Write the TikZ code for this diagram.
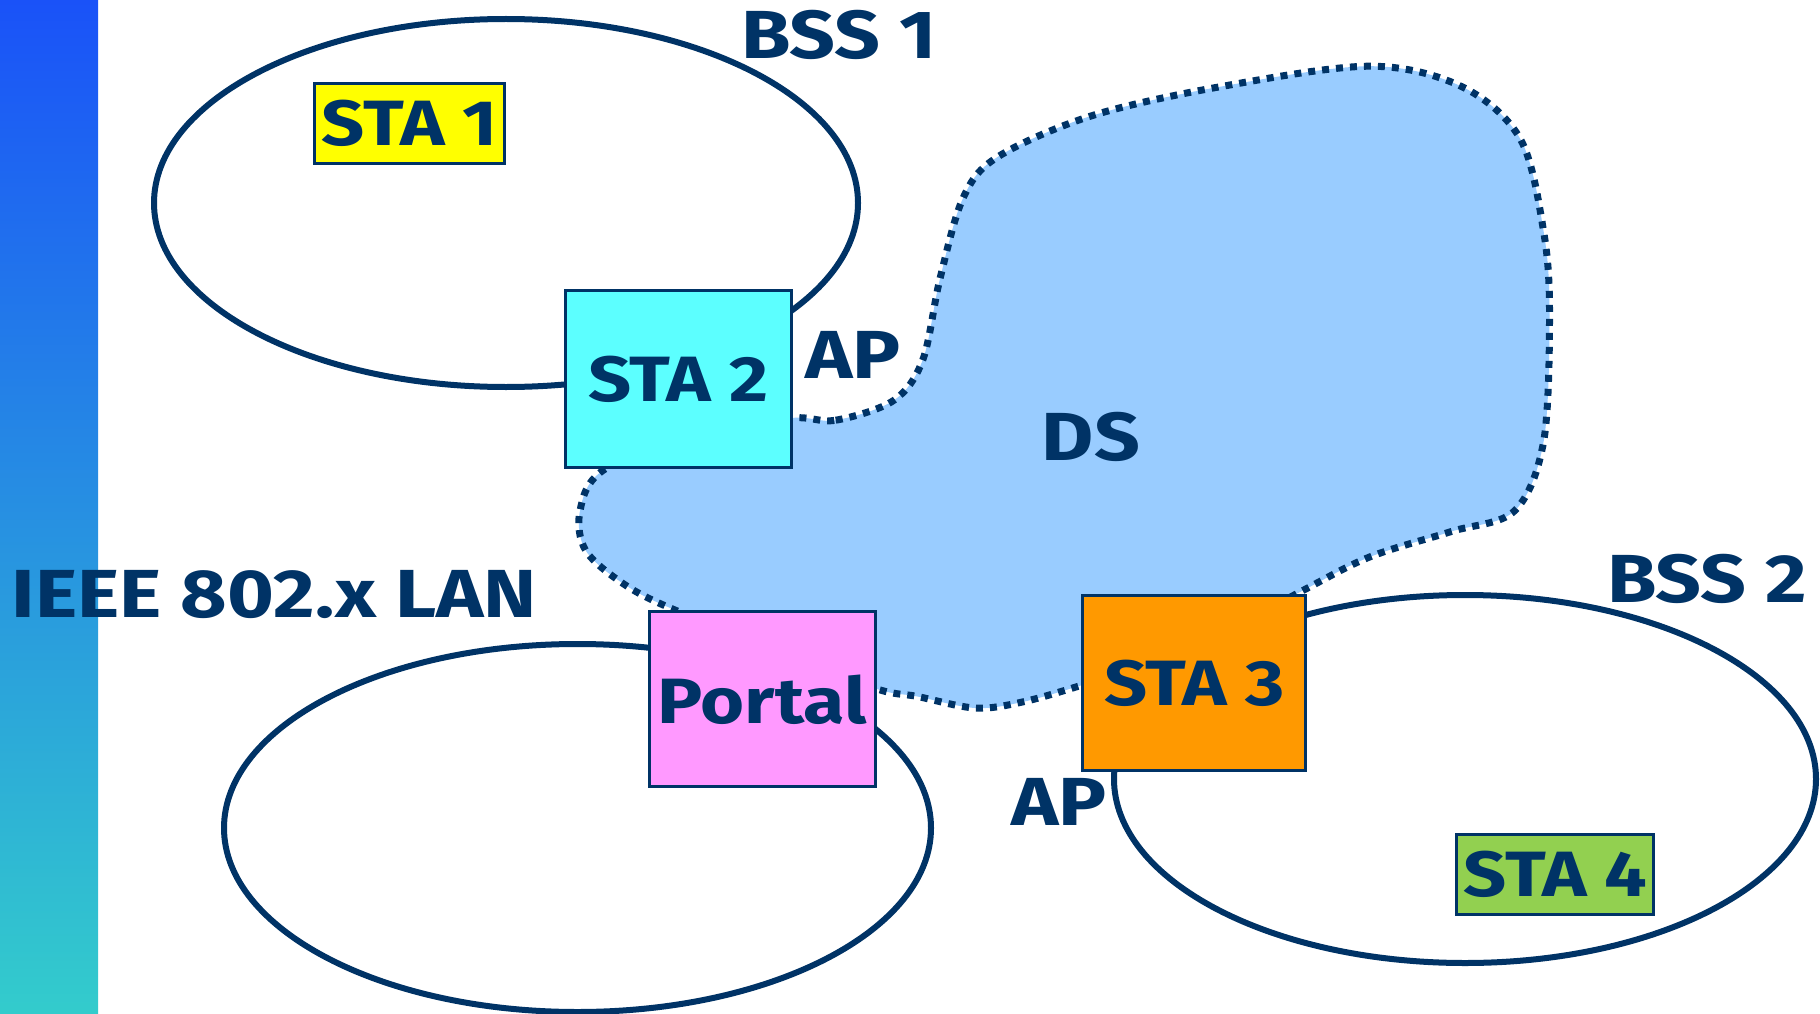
\documentclass[tikz,border=0pt]{standalone}
\usepackage{fontspec}
\setmainfont{Fira Sans}[FakeStretch=1.18]
\usetikzlibrary{shapes.geometric}
\definecolor{navy}{HTML}{003366}
\definecolor{bartop}{HTML}{1A52F8}
\definecolor{barmid}{HTML}{2AA2DC}
\definecolor{barbot}{HTML}{33CCCC}
\definecolor{dsfill}{HTML}{99CCFF}
\definecolor{yel}{HTML}{FFFF00}
\definecolor{cya}{HTML}{5CFFFF}
\definecolor{mag}{HTML}{FF99FF}
\definecolor{ora}{HTML}{FF9900}
\definecolor{grn}{HTML}{92D050}
\begin{document}
\begin{tikzpicture}[x=1pt,y=-1pt,
  ring/.style={ellipse,draw=navy,line width=6pt,inner sep=0pt},
  box/.style={draw=navy,line width=3pt,inner sep=0pt,text=navy,
    font=\fontsize{64}{70}\selectfont\bfseries},
  lbl/.style={text=navy,inner sep=0pt,font=\fontsize{68}{72}\selectfont\bfseries}]
\useasboundingbox (0,0) rectangle (1820,1014);
\fill[white] (0,0) rectangle (1820,1014);
\shade[top color=bartop, middle color=barmid, bottom color=barbot] (0,0) rectangle (98,1014);
% ellipses
\node[ring,minimum width=704pt,minimum height=368pt] (bssone) at (506,203) {};
\node[ring,minimum width=707pt,minimum height=368pt] (lanring) at (577.5,828) {};
\node[ring,minimum width=702pt,minimum height=368pt] (bsstwo) at (1465,779) {};
% DS cloud
\draw[fill=dsfill,draw=navy,line width=7pt,dash pattern=on 7pt off 7pt]
  plot[smooth cycle,tension=0.55] coordinates {
  (791.6,417.9) (835.7,420.2) (893.7,400.4) (922.8,359.8) (940,278.6)
  (963.4,197.3) (998,156.7) (1091,116) (1218.7,87) (1369.6,66.2)
  (1462.5,87) (1520.5,139.3) (1543.7,232) (1549.5,313.4) (1543.7,441)
  (1514.7,510.7) (1451,531.6) (1369.6,557) (1300,592) (1190,650)
  (1083,684.8) (1021.4,702.2) (975,708) (917,696.4) (875,688.3)
  (780,650) (679,611.7) (626.8,586) (586,551) (580,510.7) (603.6,470)
  (700,430)};
% boxes
\node[box,fill=yel,minimum width=190pt,minimum height=80pt] (sta1) at (409.8,123.7) {STA 1};
\node[box,fill=cya,minimum width=226pt,minimum height=177pt] (sta2) at (678.3,379.4) {STA 2};
\node[box,fill=mag,minimum width=226pt,minimum height=175pt] (portal) at (762,699.4) {Portal};
\node[box,fill=ora,minimum width=223pt,minimum height=175pt] (sta3) at (1194.4,683) {STA 3};
\node[box,fill=grn,minimum width=197pt,minimum height=80pt] (sta4) at (1555.4,874.5) {STA 4};
% labels
\node[lbl] (bss1) at (839,35) {BSS 1};
\node[lbl] (ap1) at (853,355) {AP};
\node[lbl] (ds) at (1091,437) {DS};
\node[lbl,anchor=west] (lan) at (11.6,595) {IEEE 802.x LAN};
\node[lbl] (bss2) at (1707,579) {BSS 2};
\node[lbl] (ap2) at (1059,802) {AP};
\end{tikzpicture}
\end{document}
